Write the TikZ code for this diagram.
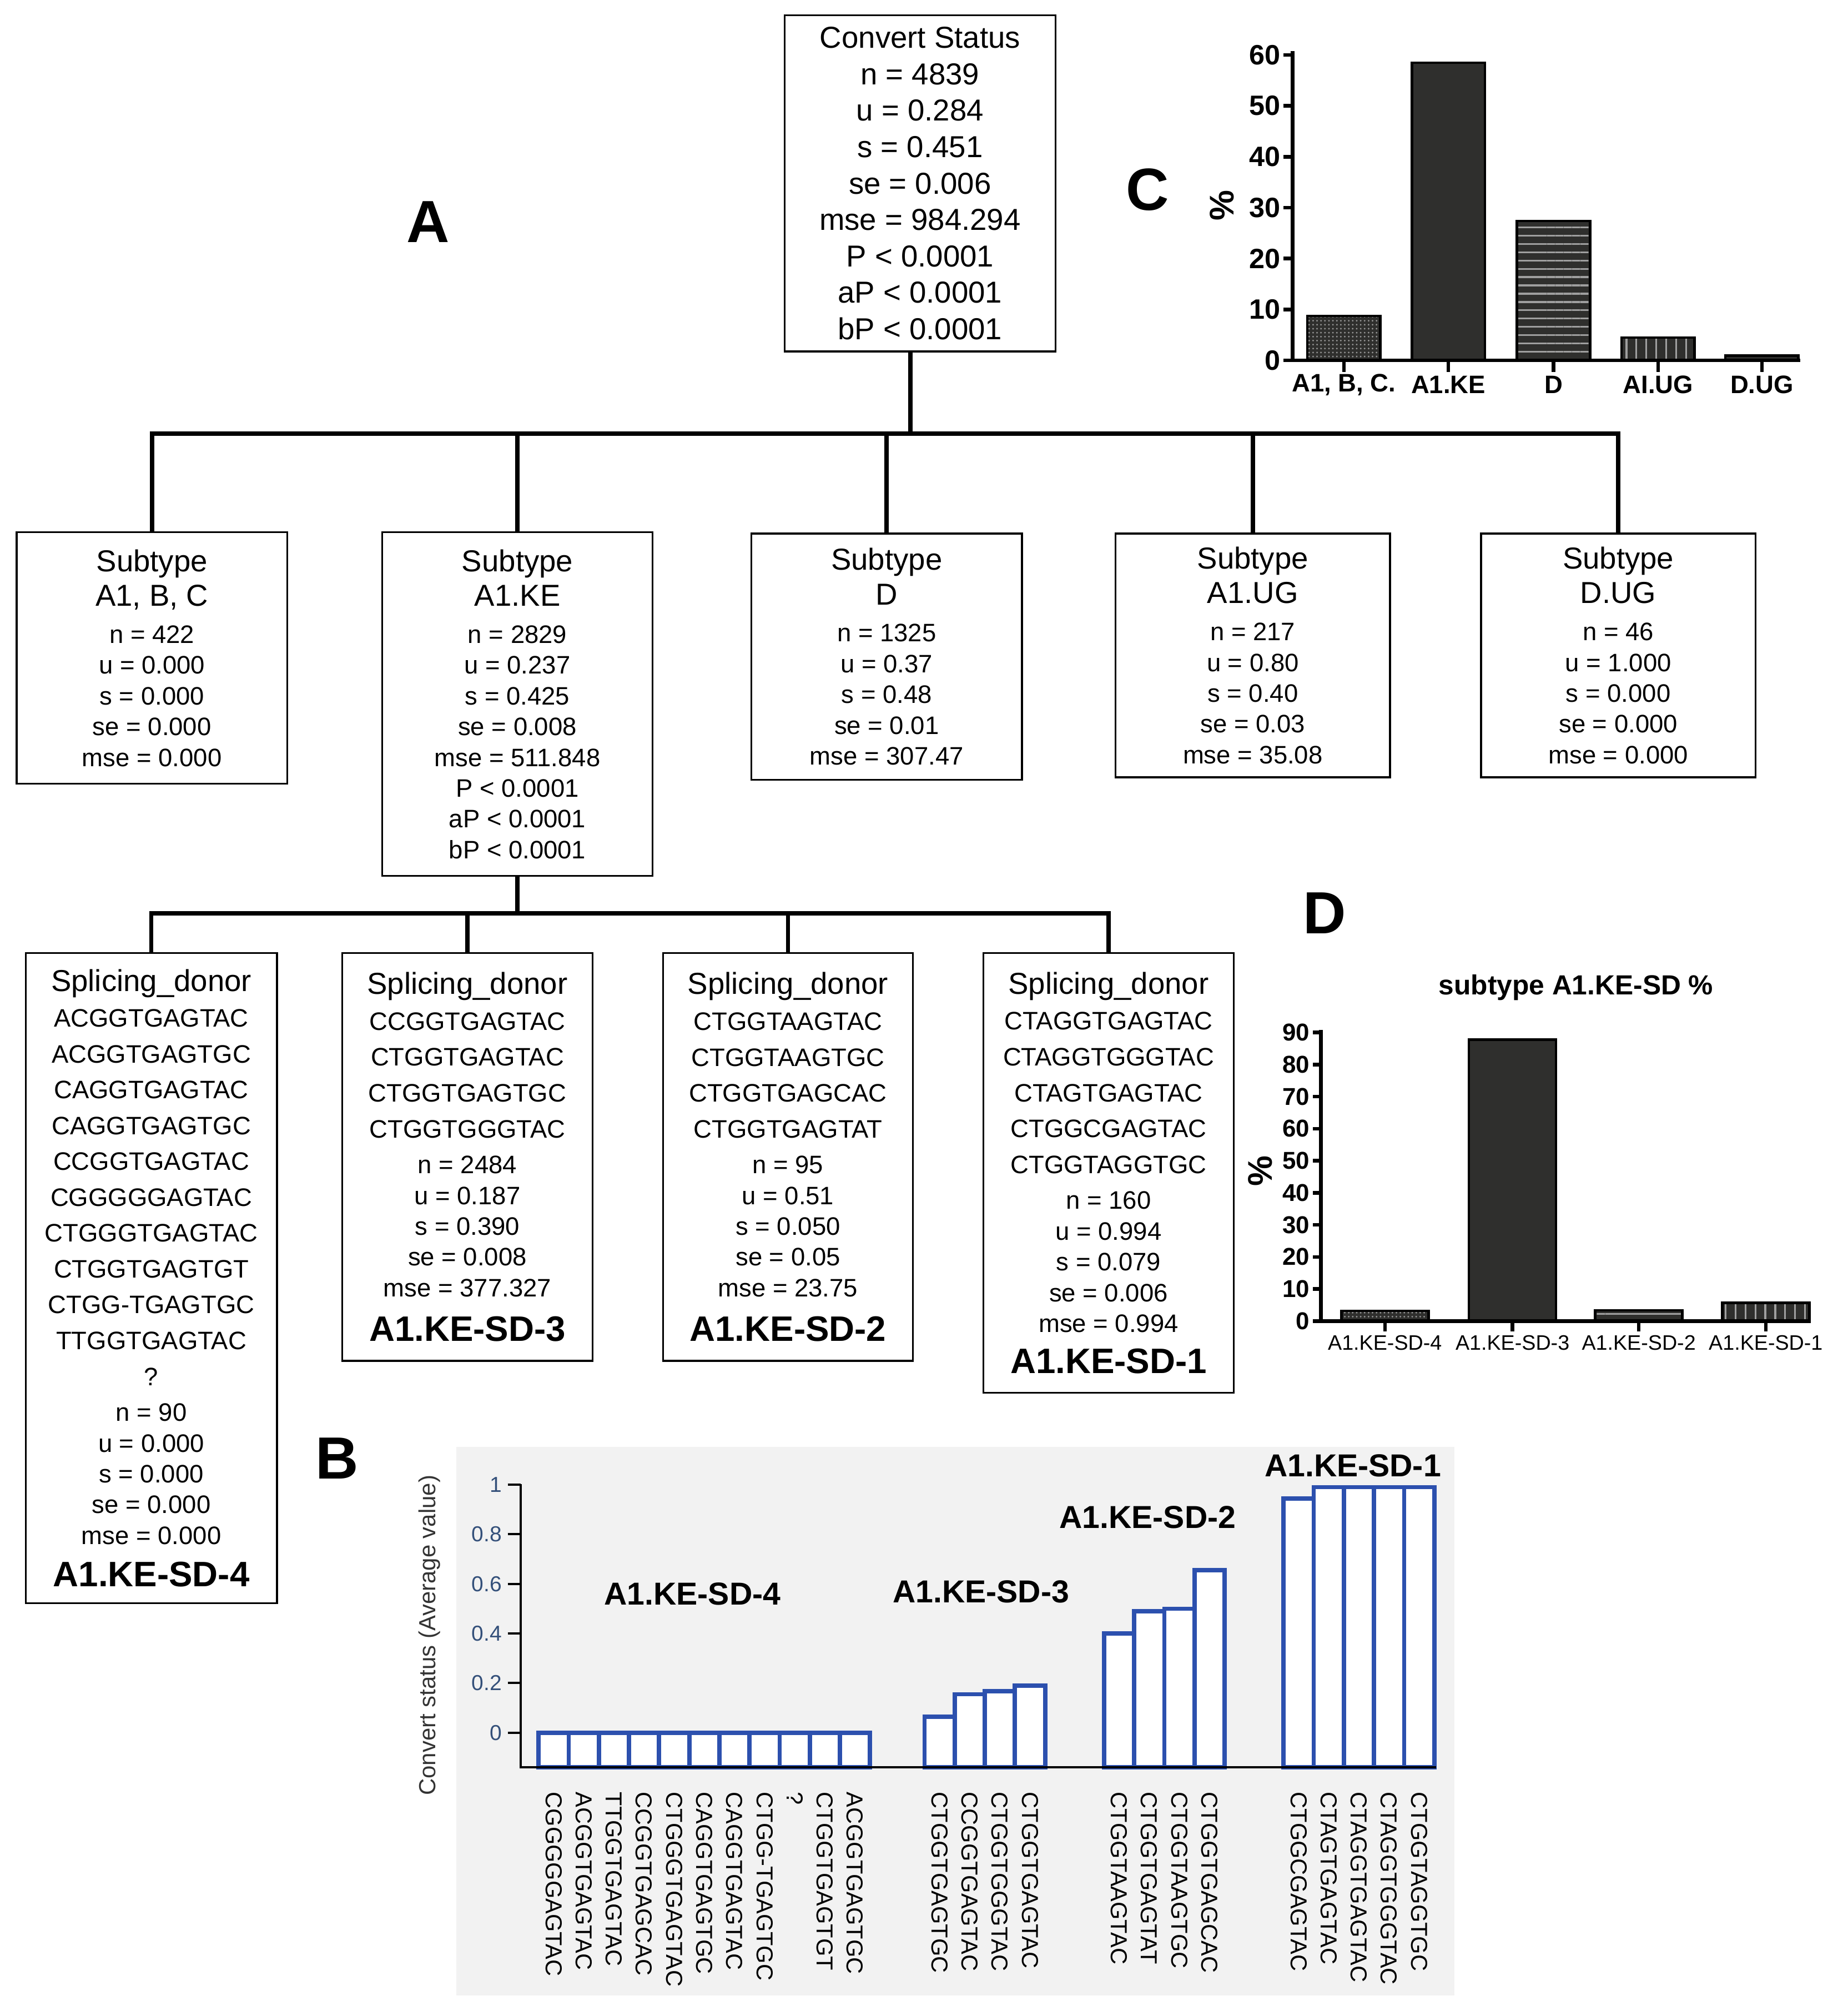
\documentclass[tikz,border=0pt]{standalone}
\usepackage{fontspec}
\setmainfont{Liberation Sans}
\usetikzlibrary{patterns.meta}

\definecolor{bardark}{HTML}{2F2F2D}
\definecolor{barblue}{HTML}{2C50AE}
\definecolor{panelgray}{HTML}{F2F2F2}
\definecolor{ticknavy}{HTML}{34507A}

\newcommand\fsroot{\fontsize{16.8}{20.2}\selectfont}
\newcommand\fsbox{\fontsize{14}{17.07}\selectfont}
\newcommand\fstitle{\fontsize{16.8}{17.07}\selectfont}
\newcommand\fssd{\fontsize{19.6}{17.07}\selectfont\bfseries}
\newcommand\fsletter{\fontsize{33}{36}\selectfont\bfseries}
\newcommand\fscy{\fontsize{15.5}{17}\selectfont\bfseries}
\newcommand\fscx{\fontsize{14}{16}\selectfont\bfseries}
\newcommand\fsdy{\fontsize{13.5}{15}\selectfont\bfseries}
\newcommand\fsdx{\fontsize{11.6}{14}\selectfont}
\newcommand\fsdtitle{\fontsize{15.3}{17}\selectfont\bfseries}
\newcommand\fspct{\fontsize{19}{21}\selectfont\bfseries}
\newcommand\fsby{\fontsize{12}{14}\selectfont}
\newcommand\fsseq{\fontsize{12.8}{14}\selectfont}
\newcommand\fsgrp{\fontsize{17.6}{19}\selectfont\bfseries}
\newcommand\fsytitle{\fontsize{12.9}{14}\selectfont}

\tikzset{
  box/.style={draw=black, line width=1pt, align=center, inner sep=2pt},
  link/.style={draw=black, line width=2.4pt},
  axis/.style={draw=black, line width=2pt},
  barline/.style={draw=black, line width=1.4pt},
  hatchdots/.style={pattern={Dots[radius=0.5pt, distance=2.2pt]}, pattern color=gray!80},
  hatchh/.style={pattern={Lines[angle=0, distance=4.6pt, line width=1pt]}, pattern color=gray!75},
  hatchv/.style={pattern={Lines[angle=90, distance=5.5pt, line width=1pt]}, pattern color=gray!75},
  hatchnone/.style={},
  bbar/.style={draw=barblue, line width=2.4pt, fill=white},
  baxis/.style={draw=black, line width=1.2pt},
  seqlab/.style={rotate=-90, anchor=west, font=\fsseq, inner sep=0pt}
}

\begin{document}
\begin{tikzpicture}[x=0.025cm, y=-0.025cm]
\useasboundingbox (0,0) rectangle (1441,1568);

\node[box, font=\fsroot, minimum width=5.275cm, minimum height=6.55cm] (root) at (717.5,143) {Convert Status\\n = 4839\\u = 0.284\\s = 0.451\\se = 0.006\\mse = 984.294\\P < 0.0001\\aP < 0.0001\\bP < 0.0001};

\node[box, font=\fsbox, minimum width=5.275cm, minimum height=4.9cm] (sub1) at (118.5,513) {{\fstitle Subtype}\\[2.1pt]{\fstitle A1, B, C}\\[3.5pt]n = 422\\u = 0.000\\s = 0.000\\se = 0.000\\mse = 0.000};
\node[box, font=\fsbox, minimum width=5.275cm, minimum height=6.7cm] (sub2) at (403.5,549) {{\fstitle Subtype}\\[2.1pt]{\fstitle A1.KE}\\[3.5pt]n = 2829\\u = 0.237\\s = 0.425\\se = 0.008\\mse = 511.848\\P < 0.0001\\aP < 0.0001\\bP < 0.0001};
\node[box, font=\fsbox, minimum width=5.275cm, minimum height=4.8cm] (sub3) at (691.5,512) {{\fstitle Subtype}\\[2.1pt]{\fstitle D}\\[3.5pt]n = 1325\\u = 0.37\\s = 0.48\\se = 0.01\\mse = 307.47};
\node[box, font=\fsbox, minimum width=5.35cm, minimum height=4.75cm] (sub4) at (977,511) {{\fstitle Subtype}\\[2.1pt]{\fstitle A1.UG}\\[3.5pt]n = 217\\u = 0.80\\s = 0.40\\se = 0.03\\mse = 35.08};
\node[box, font=\fsbox, minimum width=5.35cm, minimum height=4.75cm] (sub5) at (1262,511) {{\fstitle Subtype}\\[2.1pt]{\fstitle D.UG}\\[3.5pt]n = 46\\u = 1.000\\s = 0.000\\se = 0.000\\mse = 0.000};

\node[box, font=\fsbox, minimum width=4.9cm, minimum height=12.675cm] (sd4) at (118,996.5) {{\fstitle Splicing\_donor}\\[2.8pt]ACGGTGAGTAC\\[2.8pt]ACGGTGAGTGC\\[2.8pt]CAGGTGAGTAC\\[2.8pt]CAGGTGAGTGC\\[2.8pt]CCGGTGAGTAC\\[2.8pt]CGGGGGAGTAC\\[2.8pt]CTGGGTGAGTAC\\[2.8pt]CTGGTGAGTGT\\[2.8pt]CTGG-TGAGTGC\\[2.8pt]TTGGTGAGTAC\\[2.8pt]?\\[2.8pt]n = 90\\u = 0.000\\s = 0.000\\se = 0.000\\mse = 0.000\\[6.4pt]{\fssd A1.KE-SD-4}};
\node[box, font=\fsbox, minimum width=4.875cm, minimum height=7.95cm] (sd3) at (364.5,902) {{\fstitle Splicing\_donor}\\[2.8pt]CCGGTGAGTAC\\[2.8pt]CTGGTGAGTAC\\[2.8pt]CTGGTGAGTGC\\[2.8pt]CTGGTGGGTAC\\[2.8pt]n = 2484\\u = 0.187\\s = 0.390\\se = 0.008\\mse = 377.327\\[7.5pt]{\fssd A1.KE-SD-3}};
\node[box, font=\fsbox, minimum width=4.875cm, minimum height=7.95cm] (sd2) at (614.5,902) {{\fstitle Splicing\_donor}\\[2.8pt]CTGGTAAGTAC\\[2.8pt]CTGGTAAGTGC\\[2.8pt]CTGGTGAGCAC\\[2.8pt]CTGGTGAGTAT\\[2.8pt]n = 95\\u = 0.51\\s = 0.050\\se = 0.05\\mse = 23.75\\[7.5pt]{\fssd A1.KE-SD-2}};
\node[box, font=\fsbox, minimum width=4.875cm, minimum height=8.575cm] (sd1) at (864.5,914.5) {{\fstitle Splicing\_donor}\\[2.8pt]CTAGGTGAGTAC\\[2.8pt]CTAGGTGGGTAC\\[2.8pt]CTAGTGAGTAC\\[2.8pt]CTGGCGAGTAC\\[2.8pt]CTGGTAGGTGC\\[2.8pt]n = 160\\u = 0.994\\s = 0.079\\se = 0.006\\mse = 0.994\\[5.7pt]{\fssd A1.KE-SD-1}};

\coordinate (bus1) at (710,338);
\coordinate (bus2) at (403.5,712);
\draw[link] ([xshift=-0.1875cm]root.south) -- (bus1);
\draw[link] (sub1.north) |- (sub5.north |- bus1) -- (sub5.north);
\foreach \b in {sub2,sub3,sub4} \draw[link] (\b.north) -- (\b.north |- bus1);
\draw[link] (sub2.south) -- (bus2);
\draw[link] (sd4.north) |- (sd1.north |- bus2) -- (sd1.north);
\foreach \b in {sd3,sd2} \draw[link] (\b.north) -- (\b.north |- bus2);

\node[font=\fsletter] (labA) at (334,173) {A};
\node[font=\fsletter] (labC) at (895,148) {C};
\node[font=\fsletter] (labB) at (263,1137) {B};
\node[font=\fsletter] (labD) at (1033,712) {D};

\foreach \x/\v/\pat/\lab [count=\i] in {1048/8.72/hatchdots/{A1, B, C.}, 1129.5/58.46/hatchnone/A1.KE, 1211.5/27.38/hatchh/D, 1293/4.48/hatchv/AI.UG, 1374/0.95/hatchnone/D.UG} {
  \fill[bardark] ({\x-28.5},281) rectangle ({\x+28.5},{281-3.97*\v});
  \path[\pat] ({\x-28.5},281) rectangle ({\x+28.5},{281-3.97*\v});
  \draw[barline] ({\x-28.5},281) rectangle ({\x+28.5},{281-3.97*\v});
  \draw[axis] (\x,281) -- (\x,290);
  \node[font=\fscx] (cx\i) at (\x,300) {\lab};
}
\draw[axis] (1008,40) -- (1008,281) -- (1404,281);
\foreach \v in {0,10,...,60} {
  \draw[axis] (1001,{281-3.97*\v}) -- (1008,{281-3.97*\v});
  \node[font=\fscy, anchor=east, inner sep=1pt] (cy\v) at (1000,{281-3.97*\v}) {\v};
}
\node[font=\fspct, rotate=90] (cpct) at (953,160) {\%};

\node[font=\fsdtitle] (dtitle) at (1229,770) {subtype A1.KE-SD \%};
\foreach \x/\v/\pat/\lab [count=\i] in {1080/3.18/hatchdots/A1.KE-SD-4, 1179.5/87.8/hatchnone/A1.KE-SD-3, 1278/3.36/hatchh/A1.KE-SD-2, 1377/5.66/hatchv/A1.KE-SD-1} {
  \fill[bardark] ({\x-34},1030) rectangle ({\x+34},{1030-2.5*\v});
  \path[\pat] ({\x-34},1030) rectangle ({\x+34},{1030-2.5*\v});
  \draw[barline] ({\x-34},1030) rectangle ({\x+34},{1030-2.5*\v});
  \draw[axis] (\x,1030) -- (\x,1038);
  \node[font=\fsdx] (dx\i) at (\x,1047) {\lab};
}
\draw[axis] (1030,803) -- (1030,1030) -- (1412,1030);
\foreach \v in {0,10,...,90} {
  \draw[axis] (1024,{1030-2.5*\v}) -- (1030,{1030-2.5*\v});
  \node[font=\fsdy, anchor=east, inner sep=1pt] (dy\v) at (1023,{1030-2.5*\v}) {\v};
}
\node[font=\fspct, rotate=90] (dpct) at (983,913) {\%};

\fill[panelgray] (356,1128) rectangle (1134,1556);
\node[font=\fsytitle, text=black!80, rotate=90] (btitle) at (335,1275) {Convert status (Average value)};
\foreach \xl/\v/\seq [count=\i] in {420/0/CGGGGGAGTAC, 443.5/0/ACGGTGAGTAC, 467/0/TTGGTGAGTAC, 490.5/0/CCGGTGAGCAC, 514/0/CTGGGTGAGTAC, 537.5/0/CAGGTGAGTGC, 561/0/CAGGTGAGTAC, 584.5/0/CTGG-TGAGTGC, 608/0/?, 631.5/0/CTGGTGAGTGT, 655/0/ACGGTGAGTGC,
    721/0.065/CTGGTGAGTGC, 744.5/0.155/CCGGTGAGTAC, 768/0.167/CTGGTGGGTAC, 791.5/0.19/CTGGTGAGTAC,
    861/0.40/CTGGTAAGTAC, 884.5/0.49/CTGGTGAGTAT, 908/0.50/CTGGTAAGTGC, 931.5/0.656/CTGGTGAGCAC,
    1001/0.945/CTGGCGAGTAC, 1024.5/0.99/CTAGTGAGTAC, 1048/0.99/CTAGGTGAGTAC, 1071.5/0.99/CTAGGTGGGTAC, 1095/0.99/CTGGTAGGTGC} {
  \draw[bbar] (\xl,1378) rectangle ({\xl+23.5},{1351-193.4*\v});
  \node[seqlab] (seq\i) at ({\xl+11.75},1397) {\seq};
}
\draw[baxis] (406,1157) -- (406,1378) -- (1120,1378);
\foreach \v/\t [count=\i] in {0/0, 0.2/0.2, 0.4/0.4, 0.6/0.6, 0.8/0.8, 1/1} {
  \draw[baxis] (396,{1351-193.4*\v}) -- (406,{1351-193.4*\v});
  \node[font=\fsby, text=ticknavy, anchor=east, inner sep=1pt] (by\i) at (393,{1351-193.4*\v}) {\t};
}
\node[font=\fsgrp] (grp4) at (540,1243) {A1.KE-SD-4};
\node[font=\fsgrp] (grp3) at (765,1241) {A1.KE-SD-3};
\node[font=\fsgrp] (grp2) at (895,1183) {A1.KE-SD-2};
\node[font=\fsgrp] (grp1) at (1055,1143) {A1.KE-SD-1};
\end{tikzpicture}
\end{document}
